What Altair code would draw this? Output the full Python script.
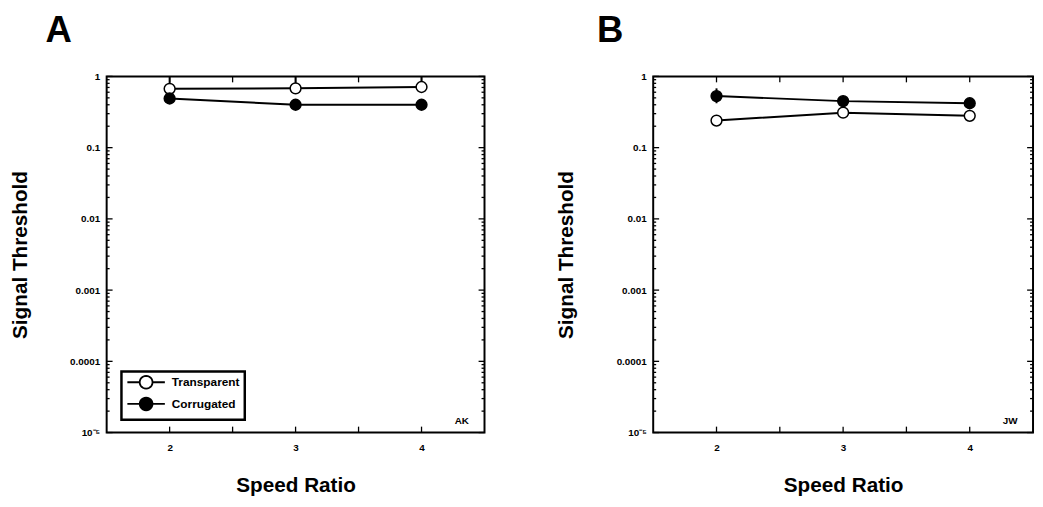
import math
import altair as alt
import pandas as pd

# ---------------- data ----------------
speed_ratio = [2, 3, 4]
series_names = ["Transparent", "Corrugated"]

# Panel A (AK)
a_transparent = [0.67, 0.68, 0.71]
a_corrugated = [0.49, 0.40, 0.40]
a_trans_lo = [0.60, 0.62, 0.64]
a_trans_hi = [0.98, 0.98, 0.98]

# Panel B (JW)
b_transparent = [0.24, 0.31, 0.28]
b_corrugated = [0.53, 0.45, 0.42]
b_corr_lo = [0.42, 0.41, 0.38]
b_corr_hi = [0.68, 0.50, 0.47]

y_tick_values = [1, 0.1, 0.01, 0.001, 0.0001, 0.00001]
y_tick_labels = ["1", "0.1", "0.01", "0.001", "0.0001", "10\u207b\u2075"]
x_label_values = [2, 3, 4]
x_tick_values = [2, 2.5, 3, 3.5, 4]
y_minor_values = [k * 10.0 ** e for e in range(-5, 0) for k in range(2, 10)]

H = 361
FONT = "Liberation Sans"

yscale = alt.Scale(type="log", domain=[1e-5, 1], nice=False)
xscale = alt.Scale(domain=[1.5, 4.5], nice=False, zero=False)

# label expression built from the tick label list
expr = "'" + y_tick_labels[-1] + "'"
for v, lab in reversed(list(zip(y_tick_values[:-1], y_tick_labels[:-1]))):
    expr = f"datum.value > {v / 2} ? '{lab}' : ({expr})"

yaxis = alt.Axis(values=y_tick_values, labelExpr=expr, ticks=False, domain=False, grid=False,
                 labelFontSize=10, labelFontWeight="bold", labelPadding=7, labelFont=FONT,
                 title="Signal Threshold", titleFontSize=21, titleFontWeight="bold",
                 titleFont=FONT, titlePadding=40)
xaxis = alt.Axis(values=x_label_values, format="d", ticks=False, domain=False, grid=False,
                 labelFontSize=10, labelFontWeight="bold", labelPadding=10, labelFont=FONT,
                 labelAngle=0, title="Speed Ratio", titleFontSize=21, titleFontWeight="bold",
                 titleFont=FONT, titlePadding=23)

# legend glyph: line with a circle (polygon) in the middle, starting at the entry's left edge
_cx, _r = 2.8, 1.3
_poly = " ".join(
    f"{'M' if i == 0 else 'L'}{_cx + _r * math.cos(2 * math.pi * i / 24):.3f},"
    f"{_r * math.sin(2 * math.pi * i / 24):.3f}" for i in range(24)
)
legend_path = f"M-1,0H{_cx - _r}M{_cx + _r},0H6.6{_poly}Z"


def panel(trans, corr, err_lo, err_hi, err_series, letter, subject, dx, show_legend, W):
    rows = []
    for name, vals in zip(series_names, [trans, corr]):
        for r, v in zip(speed_ratio, vals):
            rows.append({"ratio": r, "thr": v, "series": name})
    df = pd.DataFrame(rows)
    err = pd.DataFrame({"ratio": speed_ratio, "lo": err_lo, "hi": err_hi, "series": err_series})

    ymaj = pd.DataFrame({"v": y_tick_values})
    ymin = pd.DataFrame({"v": y_minor_values})
    xt = pd.DataFrame({"v": x_tick_values})

    Y = lambda f: alt.Y(f, scale=yscale, axis=yaxis)
    X = lambda f: alt.X(f, scale=xscale, axis=xaxis)

    tick = dict(color="black", strokeWidth=1.3)
    layers = [
        alt.Chart(ymaj).mark_rule(**tick).encode(y=Y("v:Q"), x=alt.value(0), x2=alt.value(6)),
        alt.Chart(ymaj).mark_rule(**tick).encode(y=Y("v:Q"), x=alt.value(W - 6), x2=alt.value(W)),
        alt.Chart(ymin).mark_rule(**tick).encode(y=Y("v:Q"), x=alt.value(0), x2=alt.value(3)),
        alt.Chart(ymin).mark_rule(**tick).encode(y=Y("v:Q"), x=alt.value(W - 3), x2=alt.value(W)),
        alt.Chart(xt).mark_rule(**tick).encode(x=X("v:Q"), y=alt.value(H - 6), y2=alt.value(H)),
        alt.Chart(xt).mark_rule(**tick).encode(x=X("v:Q"), y=alt.value(0), y2=alt.value(6)),
        alt.Chart(err).mark_rule(color="black", strokeWidth=2).encode(
            x=X("ratio:Q"), y=Y("lo:Q"), y2="hi:Q"),
        alt.Chart(df).mark_line(color="black", strokeWidth=2).encode(
            x=X("ratio:Q"), y=Y("thr:Q"), detail="series:N"),
    ]
    legend = (alt.Legend(title=None, orient="none", legendX=15, legendY=299,
                         symbolType=legend_path, symbolSize=100, symbolStrokeColor="black",
                         symbolStrokeWidth=1.8, labelFontSize=12, labelFontWeight="bold",
                         labelFont=FONT, padding=5, rowPadding=0, labelOffset=34,
                         strokeColor="black")
              if show_legend else None)
    layers.append(
        alt.Chart(df).mark_point(filled=True, shape="circle", size=120, stroke="black",
                                 strokeWidth=1.5, opacity=1).encode(
            x=X("ratio:Q"), y=Y("thr:Q"),
            fill=alt.Fill("series:N", scale=alt.Scale(domain=series_names, range=["white", "black"]),
                          legend=legend))
    )
    lab = pd.DataFrame({"x": [4.32], "y": [1.45e-5], "t": [subject]})
    layers.append(
        alt.Chart(lab).mark_text(fontSize=10, fontWeight="bold", font=FONT, color="black").encode(
            x=X("x:Q"), y=Y("y:Q"), text="t:N")
    )
    return alt.layer(*layers).properties(
        width=W, height=H,
        title=alt.Title(letter, anchor="start", frame="group", fontSize=37, fontWeight="bold",
                        font=FONT, dx=dx, offset=22, color="black"),
    )


pa = panel(a_transparent, a_corrugated, a_trans_lo, a_trans_hi,
           ["Transparent"] * 3, "A", "AK", -62, True, 383)
pb = panel(b_transparent, b_corrugated, b_corr_lo, b_corr_hi,
           ["Corrugated"] * 3, "B", "JW", -57, False, 385)

chart = alt.hconcat(pa, pb, spacing=69).resolve_scale(fill="independent").properties(
    padding=0
).configure(background="white").configure_view(
    stroke="black", strokeWidth=2
).configure_legend(strokeWidth=2.5, strokeColor="black")

chart.save("out.html", embed_options={"renderer": "svg", "actions": False})
